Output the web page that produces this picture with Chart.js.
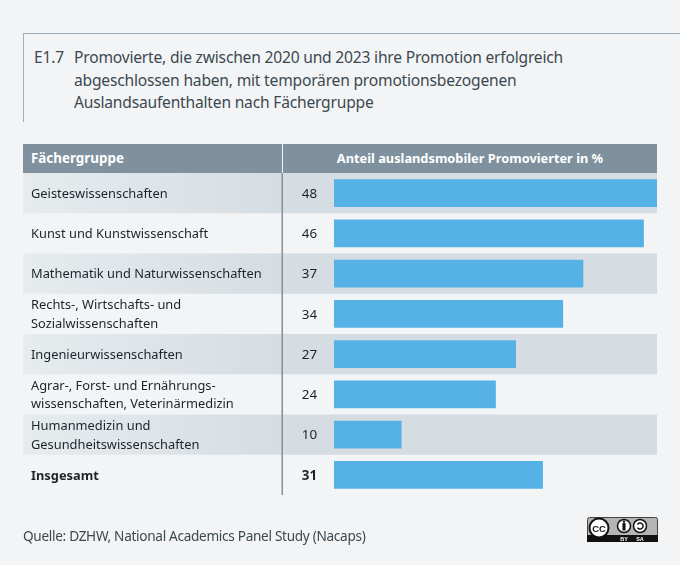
<!DOCTYPE html>
<html lang="de">
<head>
<meta charset="utf-8">
<title>E1.7</title>
<script src="https://cdn.jsdelivr.net/npm/chart.js@4"></script>
<style>
  html, body { margin: 0; padding: 0; background: #f2f4f6; }
  body { width: 680px; height: 565px; position: relative; overflow: hidden; font-family: "Noto Sans", sans-serif; }
  #chart { position: absolute; left: 0; top: 0; }
  .abs { position: absolute; white-space: nowrap; }
  .title { font-size: 15.6px; line-height: 22.6px; color: #3c4850; letter-spacing: -0.2px; }
  .head { background: #7f919e; top: 144px; height: 29px; line-height: 29px; color: #fff; font-weight: 700; font-size: 13.4px; }
</style>
</head>
<body>
<div class="abs" style="left:23px;top:33px;width:657px;height:1px;background:#9fb0bc"></div>
<div class="abs" style="left:23px;top:33px;width:1px;height:89px;background:#9fb0bc"></div>
<div class="abs title" style="left:34px;top:46px">E1.7</div>
<div class="abs title" style="left:74px;top:46px">Promovierte, die zwischen 2020 und 2023 ihre Promotion erfolgreich<br>abgeschlossen haben, mit temporären promotionsbezogenen<br>Auslandsaufenthalten nach Fächergruppe</div>
<div class="abs head" style="left:23px;width:259px;text-indent:8px">Fächergruppe</div>
<div class="abs head" style="left:283px;width:374px;text-align:center;font-size:12.8px">Anteil auslandsmobiler Promovierter in %</div>
<canvas id="chart" width="680" height="565"></canvas>
<div class="abs" style="left:23px;top:526px;font-size:13.6px;letter-spacing:-0.3px;color:#3c4850">Quelle: DZHW, National Academics Panel Study (Nacaps)</div>
<svg class="abs" style="left:587px;top:517px" width="71" height="25" viewBox="0 0 71 25">
  <rect x="0.5" y="0.5" width="70" height="24" rx="2" fill="#b4b4b4" stroke="#444"/>
  <rect x="0" y="18" width="71" height="7" fill="#111"/>
  <circle cx="12" cy="11" r="9.5" fill="#fff" stroke="#111" stroke-width="2"/>
  <text x="12" y="14.5" text-anchor="middle" font-size="9.5" font-weight="700" font-family="Liberation Sans" fill="#111">CC</text>
  <circle cx="37" cy="9" r="6.5" fill="#fff" stroke="#111" stroke-width="1.5"/>
  <rect x="35.5" y="6" width="3" height="7.5" fill="#111"/><circle cx="37" cy="4.6" r="1.2" fill="#111"/>
  <circle cx="53" cy="9" r="6.5" fill="#fff" stroke="#111" stroke-width="1.5"/>
  <path d="M50.5 7.5 A3 3 0 1 1 50.5 10.5" fill="none" stroke="#111" stroke-width="1.5"/>
  <text x="37" y="23.8" text-anchor="middle" font-size="5.5" font-weight="700" font-family="Liberation Sans" fill="#fff">BY</text>
  <text x="53" y="23.8" text-anchor="middle" font-size="5.5" font-weight="700" font-family="Liberation Sans" fill="#fff">SA</text>
</svg>
<script>
const categories = [
  'Geisteswissenschaften',
  'Kunst und Kunstwissenschaft',
  'Mathematik und Naturwissenschaften',
  ['Rechts-, Wirtschafts- und', 'Sozialwissenschaften'],
  'Ingenieurwissenschaften',
  ['Agrar-, Forst- und Ernährungs-', 'wissenschaften, Veterinärmedizin'],
  ['Humanmedizin und', 'Gesundheitswissenschaften'],
  'Insgesamt'
];
const values = [48, 46, 37, 34, 27, 24, 10, 31];
const totalIndex = 7;

const tablePlugin = {
  id: 'table',
  beforeDraw(chart) {
    const c = chart.ctx, y = chart.scales.y;
    const half = (y.getPixelForValue(1) - y.getPixelForValue(0)) / 2;
    // alternating rows
    categories.forEach((cat, i) => {
      if (i % 2 || i === totalIndex) return;
      const mid = y.getPixelForValue(i);
      const g = c.createLinearGradient(23, 0, 283, 0);
      g.addColorStop(0, '#e6ebee');
      g.addColorStop(1, '#d6dde2');
      c.fillStyle = g;
      c.fillRect(23, mid - half, 260, half * 2);
      c.fillStyle = '#d5dde3';
      c.fillRect(283, mid - half, 374, half * 2);
    });
    c.fillStyle = '#7f919e';
    c.fillRect(281.5, 173, 1.5, y.bottom - 173);
    // tick labels sit 1px lower than the font's middle baseline gives
    c.save();
    c.translate(0, 1);
  },
  beforeDatasetsDraw(chart) {
    chart.ctx.restore();
  },
  afterDraw(chart) {
    const c = chart.ctx, y = chart.scales.y;
    c.save();
    c.fillStyle = '#1d2327';
    c.textAlign = 'center';
    c.textBaseline = 'middle';
    values.forEach((v, i) => {
      c.font = (i === totalIndex ? '700 ' : '') + '13.4px "Noto Sans"';
      c.fillText(String(v), 309.5, y.getPixelForValue(i) + 1);
    });
    c.restore();
  }
};

new Chart(document.getElementById('chart'), {
  type: 'bar',
  data: {
    labels: categories,
    datasets: [{ data: values, backgroundColor: '#56b2e6', barThickness: 27 }]
  },
  options: {
    indexAxis: 'y',
    responsive: false,
    animation: false,
    layout: { padding: { left: 31, right: 23, top: 173, bottom: 70 } },
    plugins: { legend: { display: false }, tooltip: { enabled: false } },
    scales: {
      x: { display: false, min: 0, max: 48 },
      y: {
        grid: { display: false },
        border: { display: false },
        afterFit(scale) { scale.width = 303; },
        ticks: {
          crossAlign: 'far',
          autoSkip: false,
          padding: 0,
          color: '#1d2327',
          font: ctx => ({ family: '"Noto Sans"', size: 12.85, lineHeight: 1.45, weight: ctx.index === totalIndex ? '700' : '400' })
        }
      }
    }
  },
  plugins: [tablePlugin]
});
</script>
</body>
</html>
